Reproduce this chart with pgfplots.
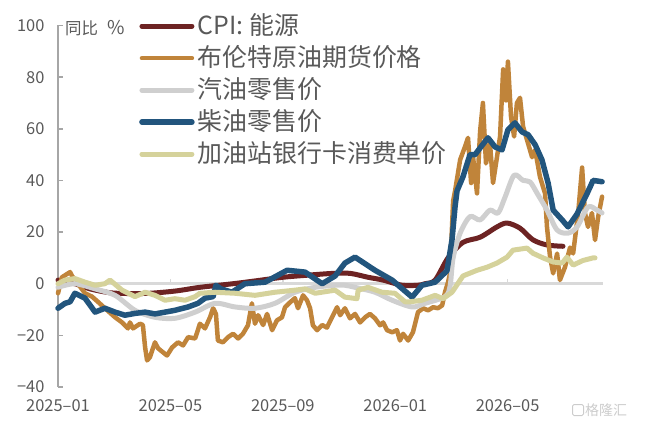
\documentclass[border=0pt]{standalone}
\usepackage{fontspec}
\setmainfont{Noto Sans CJK SC}
\usepackage{pgfplots}
\pgfplotsset{compat=1.18}
\definecolor{cpi}{HTML}{6D2323}
\definecolor{brent}{HTML}{C0843A}
\definecolor{gas}{HTML}{CFCFCF}
\definecolor{diesel}{HTML}{22557D}
\definecolor{card}{HTML}{D5D29B}
\definecolor{txt}{HTML}{595959}
\definecolor{axisgray}{HTML}{A6A6A6}
\definecolor{zero}{HTML}{D9D9D9}
\begin{document}
\begin{tikzpicture}
\path[use as bounding box] (-58bp,-40bp) rectangle (588bp,387bp);
\begin{axis}[
 scale only axis, width=548bp, height=361.5bp,
 xmin=0, xmax=19.5, ymin=-40, ymax=100,
 axis lines*=left,
 x axis line style={draw=none},
 y axis line style={axisgray, line width=1.5bp},
 xtick={0,4,8,12,16},
 xticklabels={2025–01,2025–05,2025–09,2026–01,2026–05},
 x tick style={draw=none},
 ytick={-40,-20,0,20,40,60,80,100},
 yticklabels={−40,−20,0,20,40,60,80,100},
 tick align=inside,
 y tick style={axisgray, line width=1.5bp},
 major tick length=5bp,
 tick label style={font=\fontsize{16.5}{18}\selectfont, text=txt},
 yticklabel style={xshift=-10bp},
 xticklabel style={yshift=-9bp},
 clip=false,
 legend style={at={(0.1478,1.043)}, anchor=north west, draw=none, fill=none,
   font=\fontsize{25}{27}\selectfont, text=txt, inner sep=0pt, row sep=0bp,
   nodes={inner ysep=4bp, inner xsep=1bp, text height=20bp, text depth=4bp},
   /tikz/every odd column/.style={column sep=2bp}},
 legend cell align=left,
 legend image code/.code={\draw[#1, line cap=round] (0bp,0bp) -- (50bp,0bp);},
 every axis plot/.append style={line join=round, line cap=round},
]
\addplot[forget plot, zero, line width=2.5bp, line cap=butt] coordinates {(0,0) (19.4,0)};
\addplot[forget plot, zero, line width=1.5bp, line cap=butt] coordinates {(4,0) (4,2)};
\addplot[forget plot, zero, line width=1.5bp, line cap=butt] coordinates {(8,0) (8,2)};
\addplot[forget plot, zero, line width=1.5bp, line cap=butt] coordinates {(12,0) (12,2)};
\addplot[forget plot, zero, line width=1.5bp, line cap=butt] coordinates {(16,0) (16,2)};

\addplot[cpi, line width=5bp, smooth] coordinates {
(0,1.4) (0.6,0) (1.14,-2) (1.85,-3.5) (2.5,-3.8) (3.27,-3.7) (4.2,-2.8) (5.05,-1.4) (6.23,0) (7.1,1.2) (8.0,2.5) (9.0,3.4) (9.79,4) (10.4,4) (11.03,2.5) (11.57,1.4) (12.24,-0.6) (12.81,-0.6) (13.06,0) (13.42,1.4) (13.88,10) (14.41,16) (15.02,18) (15.62,22) (15.98,23.5) (16.44,21.5) (16.9,17) (17.4,15) (17.97,14.5)
};
\addlegendentry{CPI: 能源}

\addplot[brent, line width=4.5bp] coordinates {
(0,-3.7) (0.14,2.5) (0.43,4.5) (0.5,3) (0.71,0) (0.96,-3.7) (1.21,-5) (1.42,-7) (1.67,-9.5) (2.03,-13) (2.28,-15) (2.49,-17.3) (2.56,-15) (2.67,-17.3) (2.92,-15.5) (3.02,-16) (3.1,-24.7) (3.17,-29.7) (3.27,-28.5) (3.45,-22.7) (3.56,-25) (3.74,-26.6) (3.88,-27.8) (4.06,-24.7) (4.27,-22.7) (4.45,-23.9) (4.63,-20.7) (4.88,-21.2) (5.05,-15.5) (5.23,-17.3) (5.41,-13) (5.52,-9.5) (5.62,-11.7) (5.69,-22) (5.87,-22.7) (6.05,-20.7) (6.23,-19.4) (6.41,-21.2) (6.58,-19.4) (6.76,-16.1) (6.9,-7.6) (7.01,-15.5) (7.12,-12.2) (7.3,-16) (7.44,-11.7) (7.62,-18) (7.79,-14.2) (7.97,-13) (8.08,-9.1) (8.26,-7.2) (8.43,-5.6) (8.54,-9.5) (8.72,-4.5) (8.86,-6.4) (8.97,-9.5) (9.07,-16.1) (9.22,-18) (9.4,-16) (9.57,-17) (9.75,-13) (9.93,-9.1) (10.04,-12.2) (10.21,-9.5) (10.39,-13.4) (10.57,-11.7) (10.75,-15) (10.93,-13) (11.1,-11.7) (11.28,-13.4) (11.46,-16.1) (11.57,-15) (11.71,-18) (11.89,-18.8) (12.06,-18) (12.17,-22) (12.28,-19.4) (12.46,-22) (12.63,-18.8) (12.81,-11) (12.99,-9.5) (13.17,-10.3) (13.35,-9.1) (13.52,-9.5) (13.67,-8.4) (13.77,-3.3) (13.88,0.6) (13.95,4) (14.06,32) (14.13,36) (14.31,48) (14.48,53) (14.59,56.5) (14.7,39) (14.77,49) (14.91,35) (15.02,59) (15.12,70) (15.23,46.6) (15.37,54.5) (15.48,39) (15.62,49) (15.73,57) (15.84,83) (15.94,71) (16.01,86) (16.12,64.7) (16.23,57) (16.33,70) (16.44,72) (16.55,60.8) (16.69,55.7) (16.87,49) (16.98,51.8) (17.15,41.4) (17.33,35) (17.4,22) (17.51,10.3) (17.62,4) (17.76,11.7) (17.86,1.4) (18.04,6.4) (18.22,14) (18.33,11.7) (18.51,27.4) (18.65,45) (18.75,27.4) (18.86,22) (19.0,27.4) (19.11,16.9) (19.22,25.8) (19.36,33.7)
};
\addlegendentry{布伦特原油期货价格}

\addplot[gas, line width=5bp, smooth] coordinates {
(0,-1.4) (0.6,0) (1.32,-2) (2.03,-4.5) (2.74,-10.3) (3.45,-13) (4.16,-13.4) (4.88,-11) (5.59,-7.6) (6.3,-9) (7.01,-9.5) (7.72,-7.6) (8.43,-3.3) (9.15,-1.4) (9.86,-0.6) (10.21,-0.6) (10.57,-1.4) (11.28,-3.3) (11.89,-6.4) (12.6,-9) (13.06,-7.6) (13.77,-5) (13.95,-1) (14.06,10) (14.31,19.6) (14.66,26) (15.02,24.7) (15.37,28.5) (15.66,27.4) (15.91,33.6) (16.23,42) (16.55,40) (16.8,39.4) (17.05,35) (17.4,28.5) (17.76,20.8) (18.15,19.6) (18.47,22) (18.86,29.7) (19.18,28.5) (19.36,27.4)
};
\addlegendentry{汽油零售价}

\addplot[diesel, line width=5.5bp] coordinates {
(0,-9.5) (0.25,-7.6) (0.43,-7) (0.6,-3.7) (0.96,-5.6) (1.32,-11) (1.67,-9.5) (2.03,-11) (2.38,-12.2) (2.74,-11.5) (3.1,-11) (3.45,-11.7) (3.81,-11) (4.16,-10.3) (4.63,-9) (4.98,-7.6) (5.23,-5.6) (5.52,-5) (5.62,-0.6) (5.8,-2) (6.19,-3.3) (6.65,0) (7.37,0.6) (8.15,5.2) (8.79,4.5) (9.4,0) (9.86,3) (10.21,8) (10.57,10.3) (11.28,5.2) (11.89,1.4) (12.6,-5.2) (12.95,-0.6) (13.42,0.6) (13.84,5) (14.02,17) (14.13,30) (14.2,36) (14.41,41.4) (14.66,50) (14.84,50) (15.02,52.6) (15.3,56.5) (15.55,53) (15.8,51.8) (16.01,59.6) (16.26,62.3) (16.51,58.8) (16.73,57.7) (16.98,53.8) (17.22,48) (17.44,39) (17.62,28.5) (17.94,24.7) (18.15,22) (18.47,27) (18.83,35) (19.04,40) (19.36,39.5)
};
\addlegendentry{柴油零售价}

\addplot[card, line width=5bp] coordinates {
(0,0) (0.25,1.4) (0.6,2) (0.96,0.6) (1.32,-0.6) (1.67,0) (1.85,1.4) (2.28,-2.5) (2.74,-5) (3.1,-3.3) (3.45,-4.5) (3.81,-6.4) (4.16,-5.8) (4.52,-6.4) (4.88,-5) (5.05,-3.7) (5.59,-3.3) (6.3,-3.7) (7.01,-4.5) (7.72,-3.3) (8.43,-2.5) (8.79,-2) (9.15,-3.7) (9.86,-2.5) (10.21,-5.2) (10.64,-5.8) (10.68,-2.5) (11.03,-1.4) (11.53,-3.3) (11.99,-3.7) (12.35,-7) (12.53,-7) (12.95,-6.4) (13.42,-4.5) (13.7,-5.8) (14.02,-3.3) (14.41,3) (14.91,5.2) (15.27,6.4) (15.62,8) (15.98,10.3) (16.19,13) (16.69,13.8) (16.9,11.8) (17.26,10) (17.62,8.4) (17.94,8) (18.11,10.3) (18.33,7.2) (18.68,9) (19.04,10) (19.11,10)
};
\addlegendentry{加油站银行卡消费单价}

\node[anchor=west, text=txt, font=\fontsize{16.5}{18}\selectfont, inner sep=0pt] at (rel axis cs:0,1) [xshift=7bp, yshift=-3bp] {同比\hspace{9bp}{\fontsize{19}{19}\selectfont\%}};
\node[anchor=west, text=gray!40, font=\fontsize{14}{14}\selectfont, inner sep=0pt] at (rel axis cs:0,0) [xshift=527bp, yshift=-23bp] {格隆汇};
\node[draw=gray!40, line width=1bp, rounded corners=1.5bp, minimum size=11bp, inner sep=0pt] at (rel axis cs:0,0) [xshift=520bp, yshift=-23bp] {};
\end{axis}
\end{tikzpicture}
\end{document}
